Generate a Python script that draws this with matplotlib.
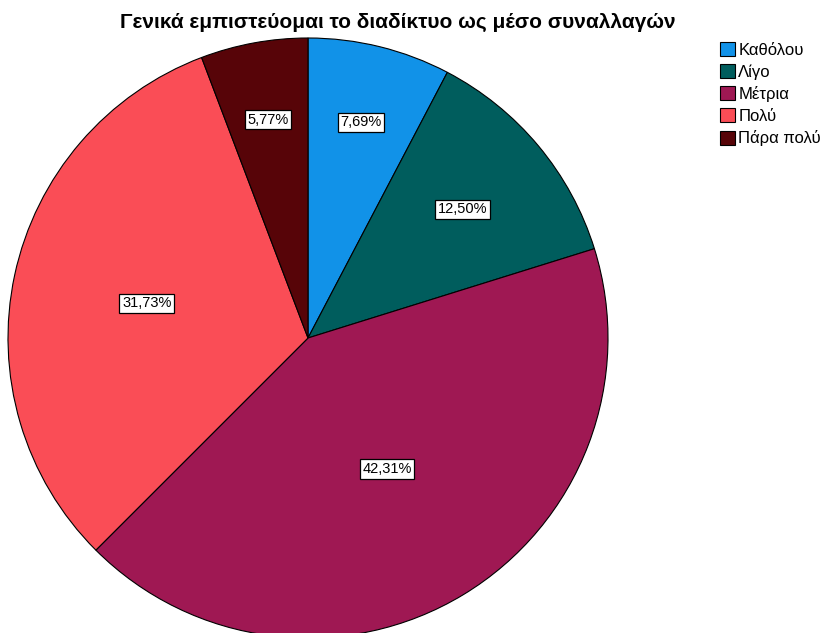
import matplotlib.pyplot as plt
import numpy as np
from matplotlib.patches import Patch

plt.rcParams['font.family'] = ['Liberation Sans', 'DejaVu Sans']

categories = ['Καθόλου', 'Λίγο', 'Μέτρια', 'Πολύ', 'Πάρα πολύ']
percents = [7.69, 12.50, 42.31, 31.73, 5.77]
colors = ['#1192e8', '#005d5d', '#9f1853', '#fa4d56', '#570408']
# how far out each value label sits, as a fraction of the radius
label_r = [0.74, 0.67, 0.51, 0.55, 0.74]

fig = plt.figure(figsize=(8.29, 6.33), dpi=100)
ax = fig.add_axes([8 / 829, -5 / 633, 600 / 829, 600 / 633])

wedges, _ = ax.pie(percents, colors=colors, startangle=90, counterclock=False,
                   wedgeprops=dict(edgecolor='black', linewidth=0.8))
ax.set_xlim(-1, 1)
ax.set_ylim(-1, 1)
ax.set_aspect('equal')

for w, p, r in zip(wedges, percents, label_r):
    ang = np.deg2rad((w.theta1 + w.theta2) / 2)
    ax.text(r * np.cos(ang), r * np.sin(ang), f'{p:.2f}%'.replace('.', ','),
            ha='center', va='center', fontsize=10.5,
            bbox=dict(boxstyle='square,pad=0.18', facecolor='white', edgecolor='black', linewidth=0.9))

fig.text(398 / 829, 1 - 22 / 633, 'Γενικά εμπιστεύομαι το διαδίκτυο ως μέσο συναλλαγών',
         ha='center', va='center', fontsize=15, fontweight='bold')

handles = [Patch(facecolor=c, edgecolor='black', linewidth=0.8) for c in colors]
fig.legend(handles, categories, loc='upper left', bbox_to_anchor=(720 / 829, 1 - 42 / 633),
           frameon=False, fontsize=12, handlelength=0.9, handleheight=0.9,
           handletextpad=0.2, labelspacing=0.38, borderaxespad=0, borderpad=0)

fig.savefig('out.png', dpi=100)
